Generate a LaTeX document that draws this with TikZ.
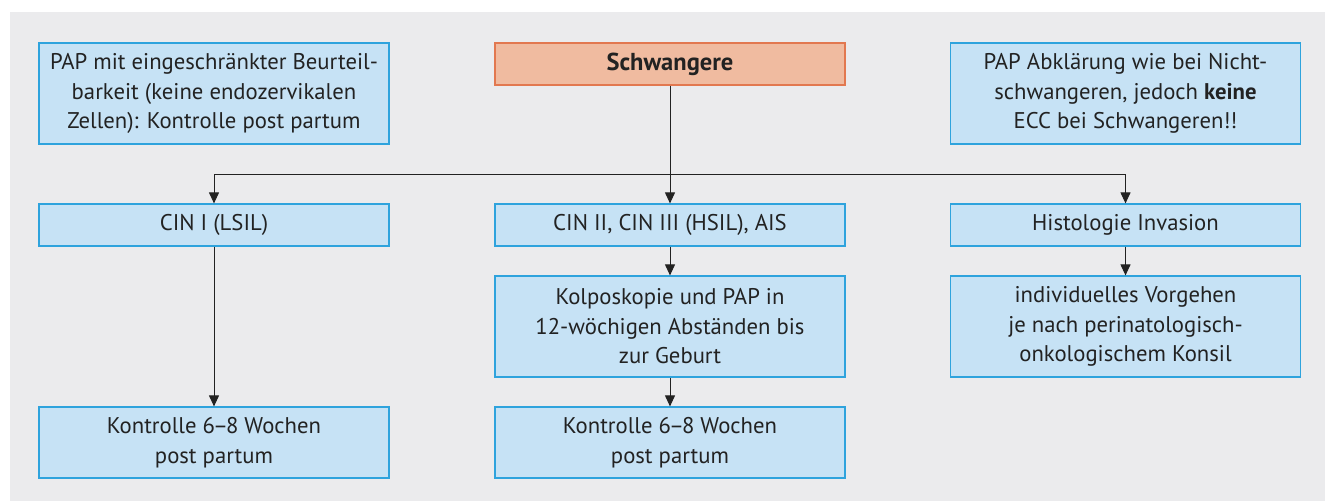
\documentclass[tikz,border=0pt]{standalone}
\usepackage{fontspec}
\setmainfont{PT Sans}
\usetikzlibrary{arrows.meta}
\definecolor{bg}{HTML}{EBEBED}
\definecolor{bfill}{HTML}{C6E2F5}
\definecolor{bdraw}{HTML}{2EA3DD}
\definecolor{ofill}{HTML}{F0BBA0}
\definecolor{odraw}{HTML}{E27850}
\definecolor{ink}{HTML}{222222}
\newcommand{\ndash}{\kern-2pt–\kern-2pt}
\begin{document}
\begin{tikzpicture}[x=1pt,y=-1pt,
  box/.style={draw=bdraw, fill=bfill, line width=1.2pt, minimum width=350pt, align=center, inner sep=0pt, font=\fontsize{22.7}{29.5}\selectfont, text=ink},
  arr/.style={draw=ink, line width=1pt, -{Triangle[length=11pt,width=10pt]}},
  ln/.style={draw=ink, line width=1pt}]
\path[use as bounding box, fill=white] (0,0) rectangle (1325,501);
\fill[bg] (10,12) rectangle (1325,501);
\node[box, minimum height=101pt] (pap1) at (214,93.5) {PAP mit eingeschränkter Beurteil-\\barkeit (keine endozervikalen\\Zellen): Kontrolle post partum};
\node[box, minimum height=42pt, fill=ofill, draw=odraw, font=\fontsize{24.5}{29.5}\selectfont\bfseries] (sch) at (670,64) {Schwangere};
\node[box, minimum height=101pt] (pap2) at (1125.5,93.5) {PAP Abklärung wie bei Nicht-\\schwangeren, jedoch \textbf{keine}\\ECC bei Schwangeren!!};
\node[box, minimum height=42pt] (cin1) at (214,225) {CIN I (LSIL)};
\node[box, minimum height=42pt] (cin2) at (670,225) {CIN II, CIN III (HSIL), AIS};
\node[box, minimum height=42pt] (hist) at (1125.5,225) {Histologie Invasion};
\node[box, minimum height=101pt] (kolpo) at (670,326.5) {Kolposkopie und PAP in\\12-wöchigen Abständen bis\\zur Geburt};
\node[box, minimum height=101pt] (indiv) at (1125.5,326.5) {individuelles Vorgehen\\je nach perinatologisch-\\onkologischem Konsil};
\node[box, minimum height=71pt] (kont1) at (214,442.5) {Kontrolle 6\ndash8 Wochen\\post partum};
\node[box, minimum height=71pt] (kont2) at (670,442.5) {Kontrolle 6\ndash8 Wochen\\post partum};
\coordinate (jl) at (214,174);
\coordinate (jr) at (1125.5,174);
\draw[ln] (jl) -- (jr);
\draw[arr] (sch.south) -- (cin2.north);
\draw[arr] (jl) -- (cin1.north);
\draw[arr] (jr) -- (hist.north);
\draw[arr] (cin1.south) -- (kont1.north);
\draw[arr] (cin2.south) -- (kolpo.north);
\draw[arr] (kolpo.south) -- (kont2.north);
\draw[arr] (hist.south) -- (indiv.north);
\end{tikzpicture}
\end{document}
